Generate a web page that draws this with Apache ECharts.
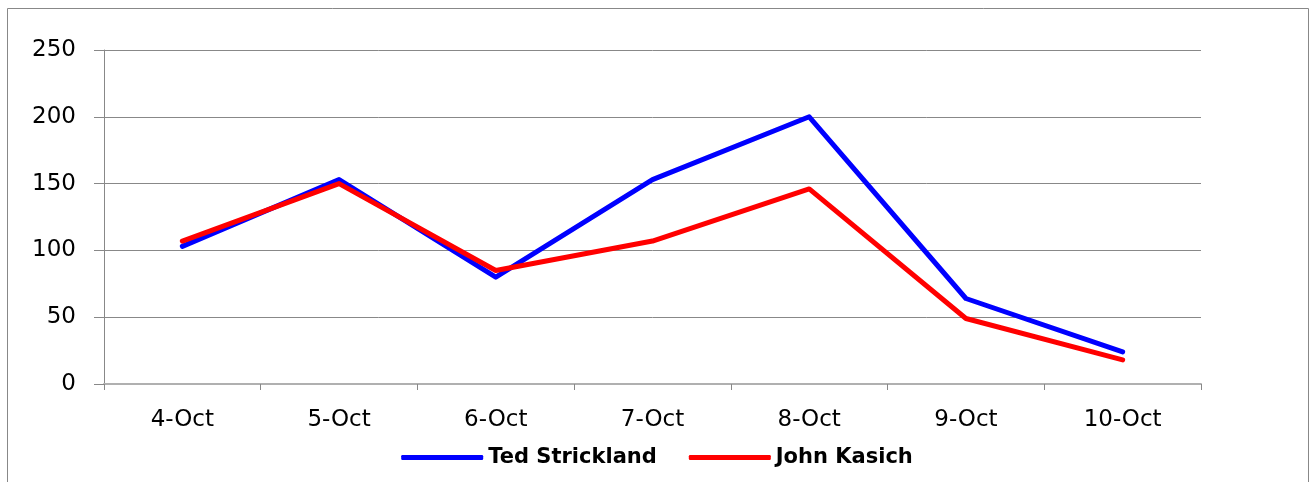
<!DOCTYPE html>
<html>
<head>
<meta charset="utf-8">
<script src="https://cdn.jsdelivr.net/npm/echarts@6/dist/echarts.min.js"></script>
<style>
html,body{margin:0;padding:0;background:#fff;}
#chart{width:1314px;height:482px;}
</style>
</head>
<body>
<div id="chart"></div>
<script>
const categories = ['4-Oct','5-Oct','6-Oct','7-Oct','8-Oct','9-Oct','10-Oct'];
const tedStrickland = [103, 153, 80, 153, 200, 64, 24];
const johnKasich = [107, 150, 85, 107, 146, 49, 18];
const seriesNames = ['Ted Strickland', 'John Kasich'];

const chart = echarts.init(document.getElementById('chart'));
chart.setOption({
  animation: false,
  backgroundColor: '#fff',
  graphic: [{
    type: 'rect',
    shape: {x: 7.5, y: 8.5, width: 1301, height: 520},
    style: {fill: 'none', stroke: '#888', lineWidth: 1},
    silent: true
  }],
  grid: {left: 104, right: 113, top: 50, bottom: 98},
  legend: {
    data: seriesNames,
    bottom: 9,
    left: 'center',
    icon: 'roundRect',
    itemWidth: 82,
    itemHeight: 5,
    itemGap: 32,
    textStyle: {fontFamily: 'DejaVu Sans', fontWeight: 'bold', fontSize: 21, color: '#000'}
  },
  xAxis: {
    type: 'category',
    data: categories,
    boundaryGap: true,
    axisLine: {show: true, lineStyle: {color: '#b0b0b0', width: 2}},
    axisTick: {show: true, length: 6, lineStyle: {color: '#888'}},
    axisLabel: {fontFamily: 'DejaVu Sans', fontSize: 23, color: '#000', margin: 25},
    splitLine: {show: false}
  },
  yAxis: {
    type: 'value',
    min: 0,
    max: 250,
    interval: 50,
    axisLine: {show: true, lineStyle: {color: '#888', width: 1}},
    axisTick: {show: true, inside: false, length: 10, lineStyle: {color: '#888'}},
    axisLabel: {fontFamily: 'DejaVu Sans', fontSize: 23, color: '#000', margin: 28},
    splitLine: {show: true, lineStyle: {color: '#888', width: 1}}
  },
  series: [
    {
      name: seriesNames[0],
      type: 'line',
      data: tedStrickland,
      symbol: 'none',
      lineStyle: {color: '#0000ff', width: 5, cap: 'round', join: 'round'},
      itemStyle: {color: '#0000ff'}
    },
    {
      name: seriesNames[1],
      type: 'line',
      data: johnKasich,
      symbol: 'none',
      lineStyle: {color: '#ff0000', width: 5, cap: 'round', join: 'round'},
      itemStyle: {color: '#ff0000'}
    }
  ]
});
</script>
</body>
</html>
